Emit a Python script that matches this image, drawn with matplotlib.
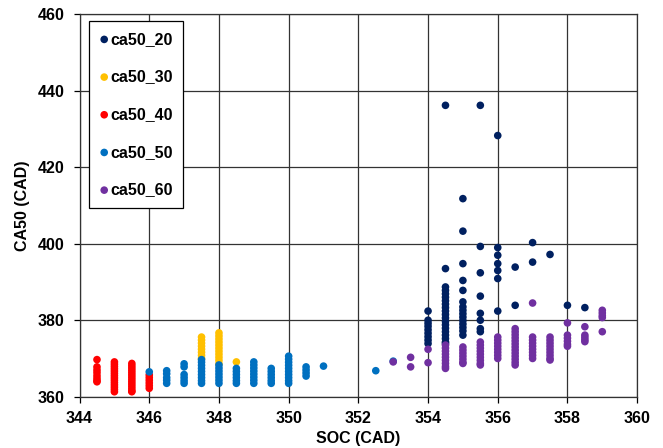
import numpy as np
import matplotlib
matplotlib.use("Agg")
import matplotlib.pyplot as plt

plt.rcParams['font.family'] = ['Liberation Sans', 'DejaVu Sans']
plt.rcParams['font.weight'] = 'bold'

# ---- data: SOC column -> CA50 values at that SOC ----
soc_20 = [354.0, 354.5, 355.0, 355.5, 356.0, 356.5, 357.0, 357.5, 358.0, 358.5]
ca50_20 = [
    [382.4, 380.0, 379.2, 378.4, 377.5, 376.6, 375.7, 374.8, 373.9],
    [436.2, 393.5, 388.7, 387.8, 386.9, 386.0, 385.1, 384.2, 383.3, 382.4, 381.5,
     380.6, 379.7, 378.8, 377.9, 377.0, 376.1, 375.2, 374.3, 373.9],
    [411.8, 403.3, 394.8, 390.4, 387.8, 384.8, 383.5, 382.6, 381.7, 380.8, 379.9,
     379.0, 378.1, 377.2, 376.1],
    [436.2, 399.3, 392.4, 386.3, 381.8, 380.0, 377.8, 377.0],
    [428.3, 399.0, 397.0, 394.8, 393.0, 390.9, 382.4],
    [393.9, 383.9],
    [400.3, 395.2],
    [397.2],
    [383.9],
    [383.3],
]

soc_30 = [347.5, 348.0, 348.5]
ca50_30 = [
    [375.6, 374.8, 374.0, 373.2, 372.4, 371.6, 370.8, 370.0],
    [376.7, 375.9, 375.1, 374.3, 373.5, 372.7, 371.9, 371.1, 370.3, 369.5, 368.6],
    [369.1],
]

soc_40 = [344.5, 345.0, 345.5, 346.0]
ca50_40 = [
    [369.7, 367.8, 367.0, 366.3, 365.5, 364.8, 364.2, 363.9],
    [369.1, 368.5, 367.9, 367.3, 366.7, 366.1, 365.5, 364.9, 364.3, 363.7, 363.1,
     362.5, 361.9, 361.3],
    [368.7, 368.1, 367.5, 366.9, 366.3, 365.7, 365.1, 364.5, 363.9, 363.3, 362.7,
     362.1, 361.5, 361.3],
    [365.7, 365.0, 364.3, 363.6, 362.9, 362.2],
]

soc_50 = [346.0, 346.5, 347.0, 347.5, 348.0, 348.5, 349.0, 349.5, 350.0, 350.5,
          351.0, 352.5, 353.0]
ca50_50 = [
    [366.5],
    [366.8, 366.0, 365.0, 364.3, 363.5],
    [368.6, 367.8, 365.8, 365.0, 364.2, 363.5],
    [369.7, 369.0, 368.2, 367.4, 366.6, 365.8, 365.0, 364.2, 363.5],
    [368.3, 367.5, 366.7, 365.9, 365.1, 364.3, 363.5],
    [367.4, 366.6, 365.8, 365.0, 364.2, 363.5],
    [369.1, 368.3, 367.5, 366.7, 365.9, 365.1, 364.3, 363.5],
    [367.4, 366.6, 365.8, 365.0, 364.2, 363.5],
    [370.6, 369.8, 369.0, 368.2, 367.4, 366.6, 365.8, 365.0, 364.2, 363.5],
    [367.8, 367.0, 366.2, 365.4],
    [368.0],
    [366.8],
    [369.3],
]

soc_60 = [353.0, 353.5, 354.0, 354.5, 355.0, 355.5, 356.0, 356.5, 357.0, 357.5,
          358.0, 358.5, 359.0]
ca50_60 = [
    [369.1],
    [370.3, 367.8],
    [372.4, 368.9],
    [373.5, 372.7, 371.9, 371.1, 370.3, 369.5, 368.7, 367.9, 367.4],
    [373.0, 372.2, 371.4, 370.6, 369.8, 369.0, 368.7],
    [374.3, 373.5, 372.7, 371.9, 371.1, 370.3, 369.5, 368.7, 368.3],
    [375.6, 374.8, 374.0, 373.2, 372.4, 371.6, 370.8, 370.0],
    [377.8, 377.0, 376.2, 375.4, 374.6, 373.8, 373.0, 372.2, 371.4, 370.6, 369.8,
     369.0, 368.3],
    [384.5, 375.6, 374.8, 374.0, 373.2, 372.4, 371.6, 370.8, 370.0],
    [375.6, 374.8, 374.0, 373.2, 372.4, 371.6, 370.8, 370.0, 369.6],
    [379.3, 376.1, 375.3, 374.5, 373.7, 373.2],
    [378.3, 376.1, 375.5, 374.9, 374.4],
    [382.6, 381.9, 381.2, 380.7, 377.0],
]

series = [
    ("ca50_20", soc_20, ca50_20, "#002060"),
    ("ca50_30", soc_30, ca50_30, "#FFC000"),
    ("ca50_40", soc_40, ca50_40, "#FF0000"),
    ("ca50_50", soc_50, ca50_50, "#0070C0"),
    ("ca50_60", soc_60, ca50_60, "#7030A0"),
]

fig = plt.figure(figsize=(6.63, 4.48), dpi=100)
ax = fig.add_axes([0.12, 0.1145, 0.841, 0.8535])

for name, socs, cols, color in series:
    xs = np.concatenate([[s] * len(c) for s, c in zip(socs, cols)])
    ys = np.concatenate(cols)
    ax.scatter(xs, ys, s=30, color=color, edgecolors='none', label=name, zorder=3)

ax.set_xlim(344, 360)
ax.set_ylim(360, 460)
ax.set_xticks(np.arange(344, 361, 2))
ax.set_yticks(np.arange(360, 461, 20))
ax.grid(True, color='#333333', linewidth=0.9)
ax.set_axisbelow(True)
for sp in ax.spines.values():
    sp.set_color('#333333')
    sp.set_linewidth(0.9)
ax.tick_params(direction='out', length=4, width=0.9, labelsize=11.5)
ax.tick_params(axis='y', pad=7)
ax.tick_params(axis='x', pad=6)
for lbl in ax.get_xticklabels() + ax.get_yticklabels():
    lbl.set_fontweight('bold')

ax.set_xlabel("SOC (CAD)", fontsize=11.5, fontweight='bold', labelpad=4)
ax.set_ylabel("CA50 (CAD)", fontsize=11.5, fontweight='bold', labelpad=5)

leg = ax.legend(loc='upper left', bbox_to_anchor=(0.017, 0.982), fontsize=11.5,
                frameon=True, fancybox=False, edgecolor='black', framealpha=1,
                labelspacing=1.42, handlelength=0.6, handletextpad=0.1,
                borderpad=0.65, scatterpoints=1, borderaxespad=0)
leg.get_frame().set_linewidth(0.9)
for t in leg.get_texts():
    t.set_fontweight('bold')

fig.savefig("out.png", dpi=100)
